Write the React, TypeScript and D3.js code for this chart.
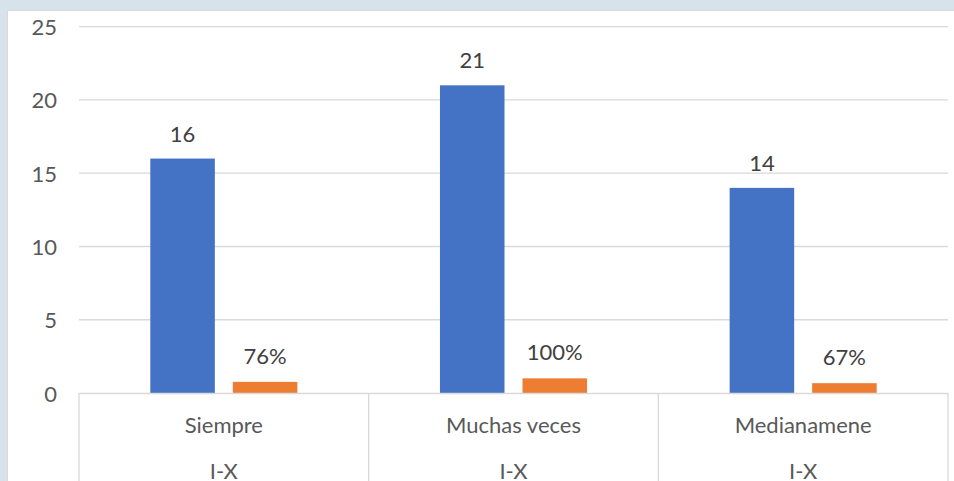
import React from "react";
import * as d3 from "d3";

const categories = ["Siempre", "Muchas veces", "Medianamene"];
const subLabels = ["I-X", "I-X", "I-X"];
const countValues = [16, 21, 14];
const shareValues = [0.76, 1.0, 0.67];
const shareLabels = ["76%", "100%", "67%"];
const yTicks = [0, 5, 10, 15, 20, 25];

const W = 954;
const H = 481;
const FONT = "Lato, 'Open Sans', sans-serif";
const FS = 22;

export default function App() {
  const plotLeft = 79;
  const plotRight = 948;
  const y = d3.scaleLinear().domain([0, 25]).range([393, 26.7]);
  const x0 = d3.scaleBand<string>().domain(categories).range([plotLeft, plotRight]).padding(0);
  const x1 = d3
    .scaleBand<string>()
    .domain(["count", "share"])
    .range([0, x0.bandwidth()])
    .paddingInner(0.218)
    .paddingOuter(0.864);
  const bw = x1.bandwidth();

  return (
    <div style={{ position: "fixed", left: 0, top: 0, width: W, height: H }}>
      <svg width={W} height={H} style={{ display: "block" }}>
        <rect x={0} y={0} width={W} height={H} fill="#d7e3eb" />
        <rect x={7.5} y={10.5} width={W} height={H} fill="#ffffff" stroke="#d9d9d9" strokeWidth={1} />
        {yTicks.map((t) => (
          <g key={t}>
            {t > 0 && (
              <line x1={plotLeft} x2={plotRight} y1={y(t)} y2={y(t)} stroke="#d9d9d9" strokeWidth={1.3} />
            )}
            <text
              x={57}
              y={y(t)}
              textAnchor="end"
              dominantBaseline="central"
              fontFamily={FONT}
              fontSize={FS}
              fill="#595959"
            >
              {t}
            </text>
          </g>
        ))}
        {categories.map((c, i) => {
          const cx = x0(c)! + x0.bandwidth() / 2;
          const bx = x0(c)! + x1("count")!;
          const ox = x0(c)! + x1("share")!;
          return (
            <g key={c}>
              <rect x={bx} y={y(countValues[i])} width={bw} height={y(0) - y(countValues[i])} fill="#4472c4" />
              <rect x={ox} y={y(shareValues[i])} width={bw} height={y(0) - y(shareValues[i])} fill="#ed7d31" />
              <text
                x={bx + bw / 2}
                y={y(countValues[i]) - 17}
                textAnchor="middle"
                fontFamily={FONT}
                fontSize={FS}
                fill="#404040"
              >
                {countValues[i]}
              </text>
              <text
                x={ox + bw / 2}
                y={y(shareValues[i]) - 18}
                textAnchor="middle"
                fontFamily={FONT}
                fontSize={FS}
                fill="#404040"
              >
                {shareLabels[i]}
              </text>
              <text x={cx} y={432.7} textAnchor="middle" fontFamily={FONT} fontSize={FS} fill="#595959">
                {c}
              </text>
              <text x={cx} y={479} textAnchor="middle" fontFamily={FONT} fontSize={FS} fill="#595959">
                {subLabels[i]}
              </text>
            </g>
          );
        })}
        <line x1={plotLeft} x2={plotRight} y1={y(0) + 0.5} y2={y(0) + 0.5} stroke="#d9d9d9" strokeWidth={1.3} />
        {d3.range(categories.length + 1).map((k) => {
          const xv = k < categories.length ? x0(categories[k])! : plotRight;
          return (
            <line key={k} x1={xv} x2={xv} y1={y(0)} y2={H} stroke="#d9d9d9" strokeWidth={1.3} />
          );
        })}
      </svg>
    </div>
  );
}
